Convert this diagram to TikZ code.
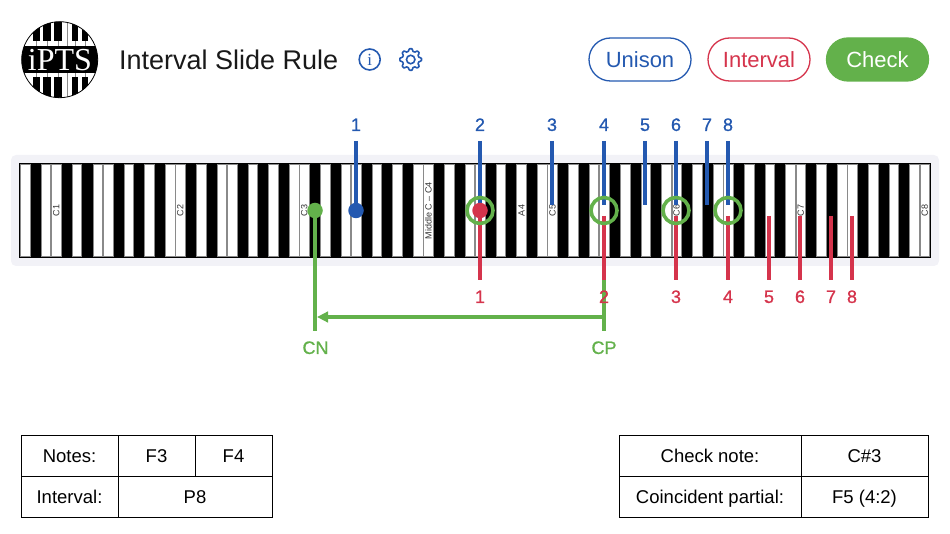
\documentclass[tikz,border=0pt]{standalone}
\usepackage{fontspec}
\setmainfont{Liberation Sans}
\newfontfamily\medfont[FakeBold=1]{Liberation Sans}
\newfontfamily\logofont{Liberation Serif}
\usetikzlibrary{arrows.meta}
\definecolor{ublue}{HTML}{2459B0}
\definecolor{ured}{HTML}{D5344C}
\definecolor{ugreen}{HTML}{63B14B}
\definecolor{panel}{HTML}{F2F2F7}
\definecolor{keyedge}{HTML}{8A8A8A}
\tikzset{
  x=1pt,y=-1pt,
  capnode/.style={inner sep=0pt,outer sep=0pt,text depth=0pt,align=center},
  pill/.style={capnode,text height=15.8pt,minimum width=102pt,minimum height=43pt,rounded corners=21.5pt,line width=1.3pt,font=\fontsize{22}{22}\selectfont},
  cell/.style={capnode,text height=13.2pt,draw=black,line width=1pt,minimum height=41pt,font=\fontsize{18.5}{19}\selectfont},
  keylabel/.style={inner sep=0pt,rotate=90,text=black!80,font=\fontsize{9}{9}\selectfont},
  num/.style={capnode,text height=12.9pt,font=\fontsize{18}{18}\medfont},
  mark line/.style={line width=4pt},
  ring/.style={circle,draw=ugreen,line width=3.6pt,minimum size=26pt,inner sep=0pt,outer sep=0pt},
  dot/.style={circle,minimum size=15.5pt,inner sep=0pt,outer sep=0pt},
}
\newcommand{\keyx}[1]{(20+10.34*(#1))}
\begin{document}
\begin{tikzpicture}
\useasboundingbox (0,0) rectangle (950,534);
% logo
\begin{scope}
  \clip (59.7,59.7) circle (38);
  \fill[white] (20,20) rectangle (100,100);
  \foreach \a/\b in {33/40,43/51,54/62,72/78,82/88}{
    \fill[black] (\a,20) rectangle (\b,41);
    \fill[black] (\a,77) rectangle (\b,100);
    \draw[black!45,line width=0.5pt] ({(\a+\b)/2},41) -- ({(\a+\b)/2},47);
    \draw[black!45,line width=0.5pt] ({(\a+\b)/2},73) -- ({(\a+\b)/2},77);
  }
  \draw[black!45,line width=0.5pt] (67,20) -- (67,47) (67,73) -- (67,100);
  \fill[black] (20,46) rectangle (100,73);
\end{scope}
\draw[black,line width=0.8pt] (59.7,59.7) circle (38);
\node[anchor=base,inner sep=0pt,text=white,font=\fontsize{32}{32}\logofont] (logo) at (60,71) {iPTS};
% title
\node[anchor=base west,inner sep=0pt,font=\fontsize{27}{27}\selectfont,text=black!90] (title) at (119,70) {Interval Slide Rule};
% info icon
\node[circle,draw=ublue,line width=1.6pt,minimum size=21pt,inner sep=0pt,text=ublue,font=\fontsize{17}{17}\logofont] (info) at (369.7,59.5) {i};
% gear icon
\draw[ublue,line width=1.6pt,line join=round] plot[smooth cycle,samples=73,domain=0:355,variable=\t]
  ({410.7+(9.6+1.2*max(-1,min(1,1.8*cos(8*\t))))*cos(\t)},{59.5+(9.6+1.2*max(-1,min(1,1.8*cos(8*\t))))*sin(\t)});
\node[circle,draw=ublue,line width=1.6pt,minimum size=8.5pt,inner sep=0pt] (gearhub) at (410.7,59.5) {};
% buttons
\node[pill,draw=ublue,text=ublue] (unison) at (640,59.5) {Unison};
\node[pill,draw=ured,text=ured] (interval) at (759,59.5) {Interval};
\node[pill,fill=ugreen,text=white,draw=ugreen] (check) at (877.5,59.5) {Check};
% keyboard
\node[fill=panel,rounded corners=5pt,minimum width=928pt,minimum height=111pt,inner sep=0pt] (panelbox) at (475,210.5) {};
\node[fill=black,draw=black,line width=1pt,minimum width=910pt,minimum height=93pt,inner sep=0pt] (keyboard) at (475,210.5) {};
\foreach \o in {0,...,7}{
  \foreach \s in {0,2,3,5,7,8,10}{
    \pgfmathsetmacro{\k}{\o*12+\s}
    \pgfmathparse{\k<88?1:0}
    \ifnum\pgfmathresult=1
      \filldraw[fill=white,draw=keyedge,line width=0.7pt] ({\keyx{\k}+0.5},164.5) rectangle ({\keyx{\k+1}-0.2},256.5);
    \fi
  }
}
\draw[black,line width=1pt] (keyboard.south west) rectangle (keyboard.north east);
% key labels
\foreach \n/\k/\t in {kc1/3/C1,kc2/15/C2,kc3/27/C3,kmc/39/Middle C – C4,ka4/48/A4,kc5/51/C5,kc6/63/C6,kc7/75/C7,kc8/87/C8}{
  \node[keylabel] (\n) at ({\keyx{\k+0.5}},210.5) {\t};
}
% unison (blue) marks
\foreach \i/\x in {1/356,2/480,3/552,4/604,5/645,6/676,7/707,8/728}{
  \coordinate (bs\i) at (\x,141);
  \coordinate (be\i) at (\x,205);
  \draw[ublue,mark line] (bs\i) -- (be\i);
}
\foreach \i/\x in {1/480,2/604,3/676,4/728,5/769,6/800,7/831,8/852}{
  \coordinate (rs\i) at (\x,216);
  \coordinate (re\i) at (\x,280);
  \draw[ured,mark line] (rs\i) -- (re\i);
}
% coincidence rings
\node[ring] (ring1) at (480,210.5) {};
\node[ring] (ring2) at (604,210.5) {};
\node[ring] (ring3) at (676,210.5) {};
\node[ring] (ring4) at (728,210.5) {};
% dots
\node[dot,fill=ublue] (bluedot) at (356,210.5) {};
\node[dot,fill=ured] (reddot) at (480,210.5) {};
\node[dot,fill=ugreen] (greendot) at (315,210.5) {};
% check connectors
\coordinate (cnend) at (315,331.5);
\coordinate (cpstart) at (604,280);
\coordinate (cpend) at (604,331.5);
\coordinate (cpjoin) at (604,317);
\coordinate (cnjoin) at (317,317);
\draw[ugreen,line width=3.6pt] (greendot) -- (cnend);
\draw[ugreen,line width=3.6pt] (cpstart) -- (cpend);
\draw[ugreen,line width=3.6pt,-{Triangle[length=11pt,width=10.5pt]}] (cpjoin) -- (cnjoin);
% number labels
\foreach \i/\x in {1/356,2/480,3/552,4/604,5/645,6/676,7/707,8/728}{
  \node[num,text=ublue] (bn\i) at (\x,124.5) {\i};
}
\foreach \i/\x in {1/480,2/604,3/676,4/728,5/769,6/800,7/831,8/852}{
  \node[num,text=ured] (rn\i) at (\x,296.5) {\i};
}
\node[num,text=ugreen] (cn) at (315.5,347.5) {CN};
\node[num,text=ugreen] (cp) at (604,347.5) {CP};
% left table
\node[cell,minimum width=97pt] (notes) at (69.5,455.5) {Notes:};
\node[cell,minimum width=77pt] (f3) at (156.5,455.5) {F3};
\node[cell,minimum width=77pt] (f4) at (233.5,455.5) {F4};
\node[cell,minimum width=97pt] (intv) at (69.5,496.5) {Interval:};
\node[cell,minimum width=154pt] (p8) at (195,496.5) {P8};
% right table
\node[cell,minimum width=182pt] (chk) at (710,455.5) {Check note:};
\node[cell,minimum width=127pt] (csharp) at (864.5,455.5) {C\#3};
\node[cell,minimum width=182pt] (coin) at (710,496.5) {Coincident partial:};
\node[cell,minimum width=127pt] (f5) at (864.5,496.5) {F5 (4:2)};
\end{tikzpicture}
\end{document}
